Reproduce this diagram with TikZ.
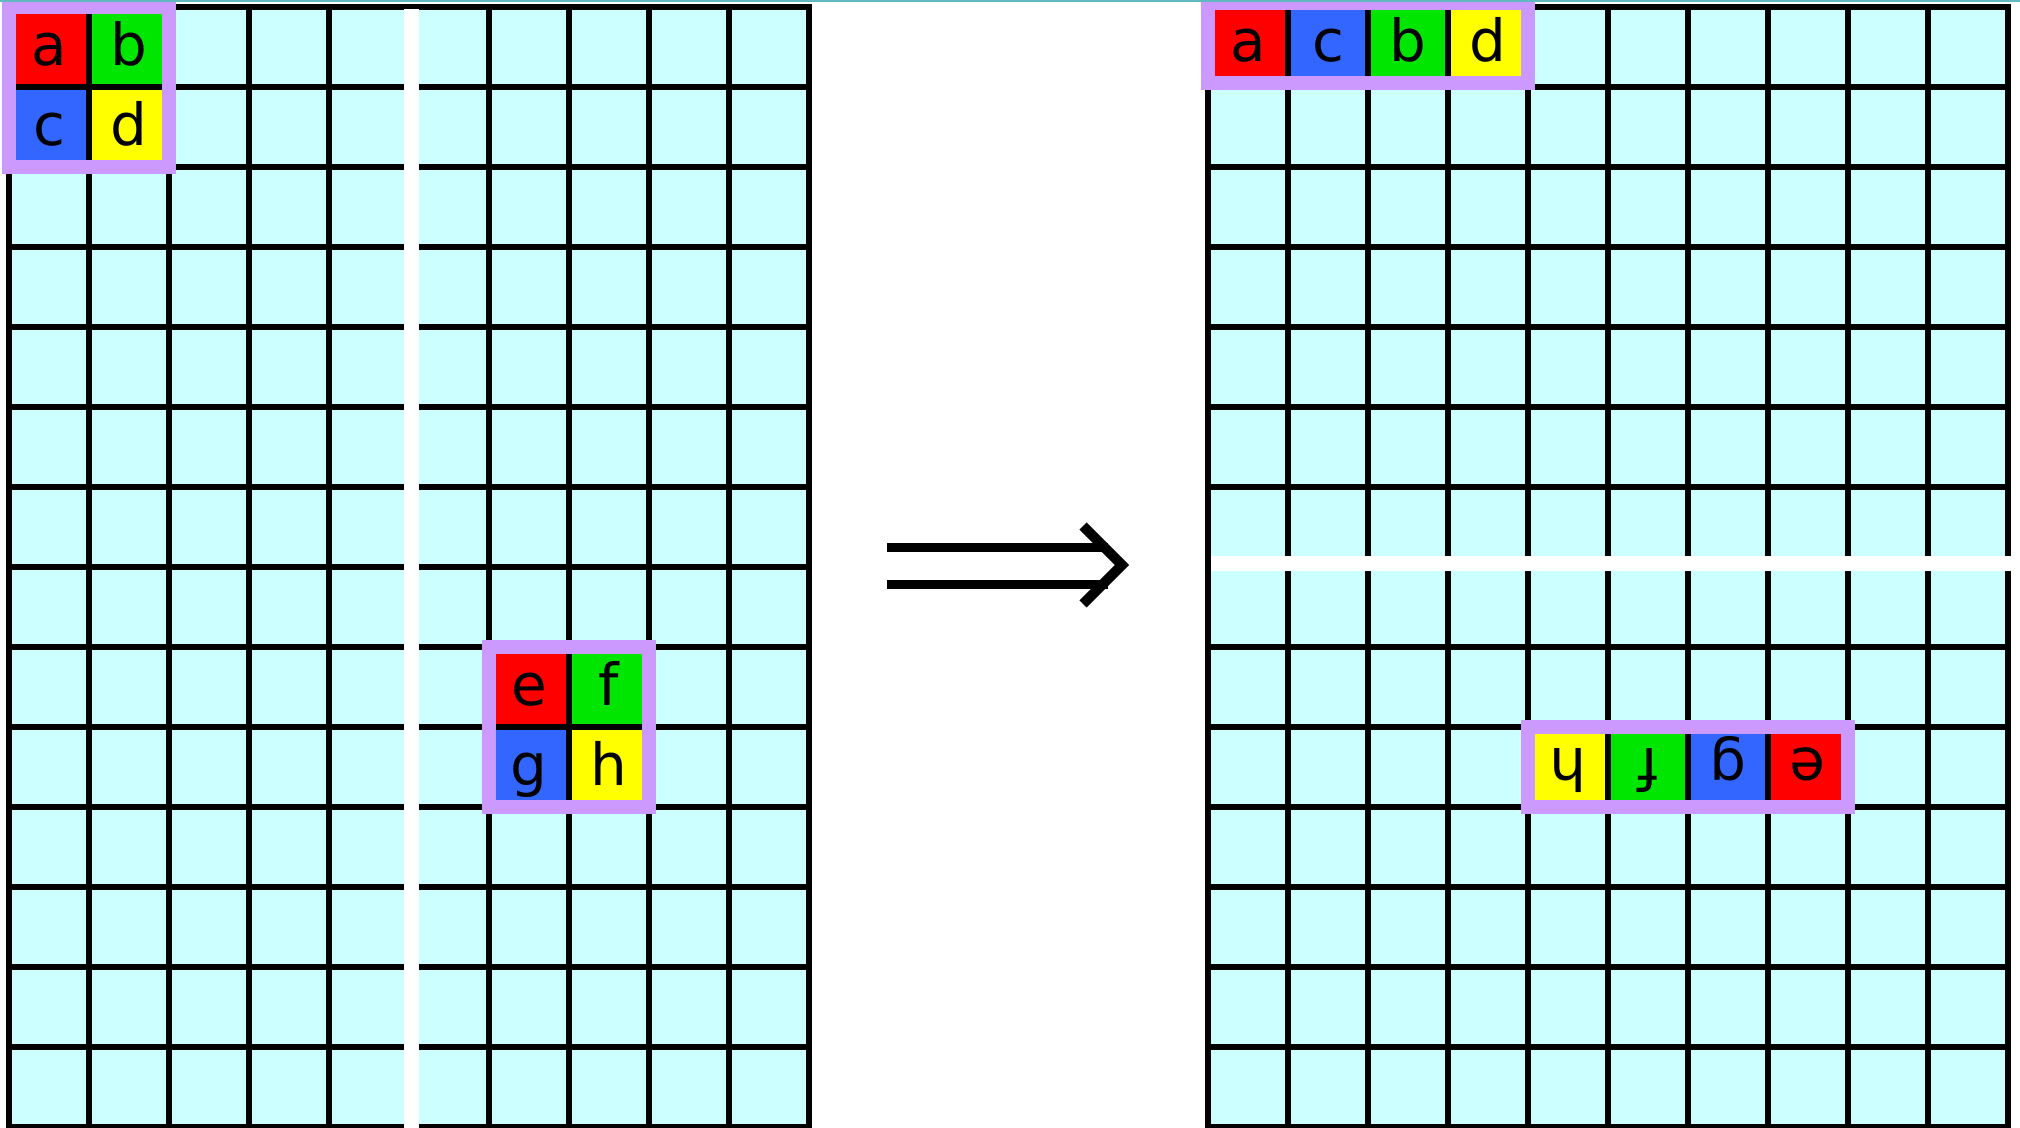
\documentclass[tikz,border=0pt]{standalone}
\usepackage{fontspec}
\setmainfont{DejaVu Sans}
\definecolor{cellred}{HTML}{FF0000}
\definecolor{cellgreen}{HTML}{00E600}
\definecolor{cellblue}{HTML}{3366FF}
\definecolor{cellyellow}{HTML}{FFFF00}
\definecolor{framepurple}{HTML}{CC99FF}
\definecolor{gridcyan}{HTML}{CCFFFF}
\definecolor{topteal}{RGB}{95,185,190}
\begin{document}
\begin{tikzpicture}[x=0.5pt,y=-0.5pt,
  gridline/.style={black,line width=2.8pt,line cap=rect},
  whiteband/.style={fill=white},
  cellbox/.style={minimum width=40pt,minimum height=40pt,inner sep=0pt,outer sep=0pt,
    text height=18.5pt,text depth=0pt,font=\fontsize{29pt}{29pt}\selectfont},
  flipped/.style={cellbox,rotate=180},
  divider/.style={black,line width=2.8pt},
  frame/.style={draw=framepurple,line width=7pt,line join=miter},
  arrowline/.style={black,line width=4.5pt},
  arrowhead/.style={black,line width=5pt,line join=miter}]
\useasboundingbox (0,0) rectangle (2020,1128);
\fill[white] (0,0) rectangle (2020,1128);

% left grid
\fill[gridcyan] (9,7) rectangle (809,1127);
\foreach \i in {0,...,10} \draw[gridline] (9+80*\i,7) -- (9+80*\i,1127);
\foreach \j in {0,...,14} \draw[gridline] (9,7+80*\j) -- (809,7+80*\j);

% right grid
\fill[gridcyan] (1208,7) rectangle (2008,1127);
\foreach \i in {0,...,10} \draw[gridline] (1208+80*\i,7) -- (1208+80*\i,1127);
\foreach \j in {0,...,14} \draw[gridline] (1208,7+80*\j) -- (2008,7+80*\j);

% white bands
\fill[whiteband] (404,9) rectangle (419,1128);
\fill[whiteband] (1211,556) rectangle (2011,571);

% left top block
\node[cellbox,fill=cellred]    (la) at (49,47)   {a};
\node[cellbox,fill=cellgreen]  (lb) at (129,47)  {b};
\node[cellbox,fill=cellblue]   (lc) at (49,127)  {c};
\node[cellbox,fill=cellyellow] (ld) at (129,127) {d};
\draw[divider] (la.north east) -- (lc.south east);
\draw[divider] (la.south west) -- (lb.south east);
\draw[frame] (la.north west) rectangle (ld.south east);

% left middle block
\node[cellbox,fill=cellred]    (le) at (529,687) {e};
\node[cellbox,fill=cellgreen]  (lf) at (609,687) {f};
\node[cellbox,fill=cellblue]   (lg) at (529,767) {g};
\node[cellbox,fill=cellyellow] (lh) at (609,767) {h};
\draw[divider] (le.north east) -- (lg.south east);
\draw[divider] (le.south west) -- (lf.south east);
\draw[frame] (le.north west) rectangle (lh.south east);

% right top row
\node[cellbox,fill=cellred]    (ra) at (1248,43) {a};
\node[cellbox,fill=cellblue]   (rc) at (1328,43) {c};
\node[cellbox,fill=cellgreen]  (rb) at (1408,43) {b};
\node[cellbox,fill=cellyellow] (rd) at (1488,43) {d};
\draw[divider] (ra.north east) -- (ra.south east);
\draw[divider] (rc.north east) -- (rc.south east);
\draw[divider] (rb.north east) -- (rb.south east);
\draw[frame] (ra.north west) rectangle (rd.south east);

% right lower row (upside down)
\node[flipped,fill=cellyellow] (rh) at (1568,767) {h};
\node[flipped,fill=cellgreen]  (rf) at (1648,767) {f};
\node[flipped,fill=cellblue]   (rg) at (1728,767) {g};
\node[flipped,fill=cellred]    (re) at (1808,767) {e};
\draw[divider] (1608,727) -- (1608,807);
\draw[divider] (1688,727) -- (1688,807);
\draw[divider] (1768,727) -- (1768,807);
\draw[frame] (1528,727) rectangle (1848,807);

% implication arrow
\coordinate (arrS1) at (887,548);
\coordinate (arrE1) at (1108,548);
\coordinate (arrS2) at (887,585);
\coordinate (arrE2) at (1108,585);
\draw[arrowline] (arrS1) -- (arrE1);
\draw[arrowline] (arrS2) -- (arrE2);
\draw[arrowhead] (1083,526) -- (1122,565) -- (1083,604);

% thin top line
\draw[topteal,line width=1pt] (0,0.8) -- (2020,0.8);
\end{tikzpicture}
\end{document}
